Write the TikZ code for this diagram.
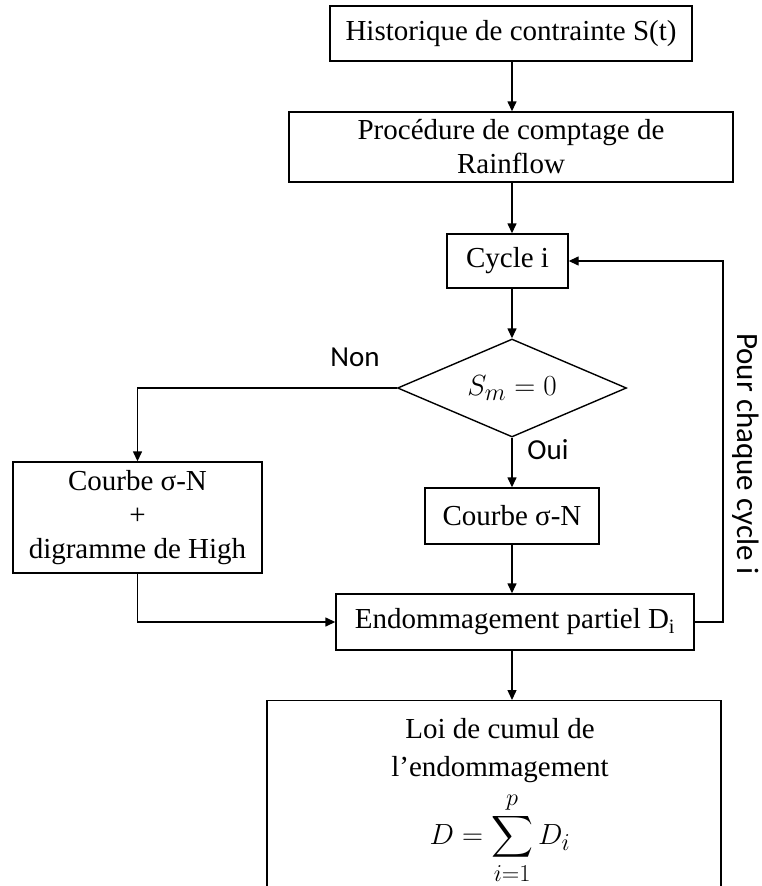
\documentclass[tikz,border=0pt]{standalone}
\usepackage{amsmath}
\usepackage{fontspec}
\setmainfont{Liberation Serif}
\newfontfamily\lblfont{Carlito}
\usetikzlibrary{arrows.meta,shapes.geometric,calc}
\newcommand{\bigmath}[1]{\scalebox{1.17}{\fontsize{24.88}{30}\selectfont #1}}
\begin{document}
\begin{tikzpicture}[x=1pt,y=-1pt,
  box/.style={draw, line width=1.4pt, inner sep=0pt, align=center, font=\fontsize{29}{34}\selectfont},
  conn/.style={line width=1.4pt},
  arr/.style={conn, -{Triangle[length=10pt,width=9pt]}},
  lbl/.style={font=\lblfont\fontsize{29}{34}\selectfont}]
\useasboundingbox (0,0) rectangle (761,886);
\clip (0,0) rectangle (761,886);
\coordinate (col) at (512,0);
\node[box, minimum width=362pt, minimum height=55pt] (b1) at (511,33.5) {Historique de contrainte S(t)};
\node[box, minimum width=444pt, minimum height=70pt] (b2) at (511,147) {Procédure de comptage de\\Rainflow};
\node[box, minimum width=121pt, minimum height=54pt] (b3) at (507.5,261) {Cycle i};
\node[draw, diamond, aspect=2.3, line width=1.4pt, inner sep=0pt, minimum width=229pt, minimum height=98pt] (d) at (512,388) {\bigmath{$S_m=0$}};
\node[box, minimum width=249pt, minimum height=111pt] (b4) at (137.5,517.5) {Courbe σ-N\\+\\digramme de High};
\node[box, minimum width=174pt, minimum height=56pt] (b5) at (512,516) {Courbe σ-N};
\node[box, minimum width=358pt, minimum height=56pt] (b6) at (515,622) {Endommagement partiel D\textsubscript{i}};
\node[box, minimum width=454pt, minimum height=250pt, anchor=north] (b7) at (494,700) {};
\node[align=center, inner sep=0pt, font=\fontsize{29}{38}\selectfont] (b7t) at (500,801)
  {Loi de cumul de\\l’endommagement\\[9pt]\bigmath{$\displaystyle D=\sum_{i=1}^{p}D_i$}};
\coordinate (fb) at (723,622);
\node[lbl] (non) at (355,357) {Non};
\node[lbl] (oui) at (548,450) {Oui};
\node[lbl, rotate=-90, font=\lblfont\fontsize{31}{36}\selectfont] (pcc) at (746,454) {Pour chaque cycle i};
\draw[arr] (b1.south -| col) -- (b2.north -| col);
\draw[arr] (b2.south -| col) -- (b3.north -| col);
\draw[arr] (b3.south -| col) -- (d.north);
\draw[arr] (d.west) -| (b4.north);
\draw[arr] (d.south) -- (b5.north);
\draw[arr] (b5.south) -- (b6.north -| b5.south);
\draw[arr] (b4.south) |- (b6.west);
\draw[arr] (b6.east) -- (fb) |- (b3.east);
\draw[arr] (b6.south -| col) -- (b7.north -| col);
\end{tikzpicture}
\end{document}
